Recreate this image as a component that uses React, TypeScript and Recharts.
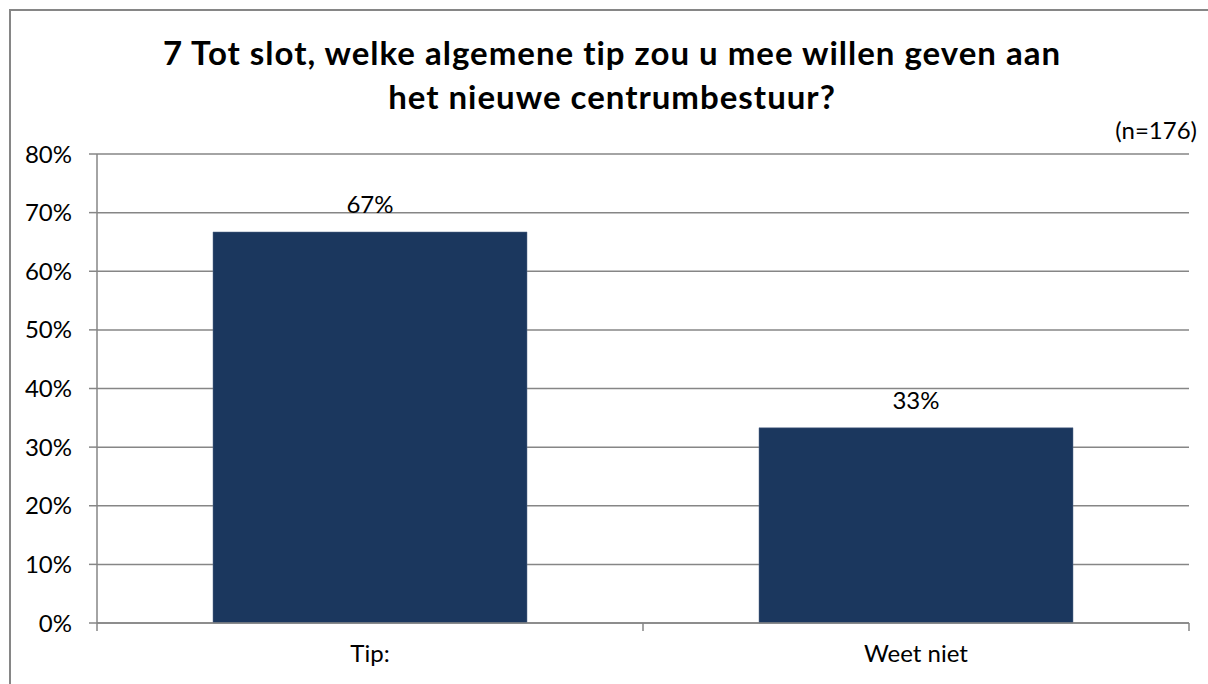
import React from "react";
import { BarChart, Bar, XAxis, YAxis, CartesianGrid, LabelList } from "recharts";

const categories = ["Tip:", "Weet niet"];
const values = [66.7, 33.3];
const valueLabels = ["67%", "33%"];
const yTicks = [0, 10, 20, 30, 40, 50, 60, 70, 80];
const titleLines = [
  "7 Tot slot, welke algemene tip zou u mee willen geven aan",
  "het nieuwe centrumbestuur?",
];
const sampleNote = "(n=176)";

const data = categories.map((c, i) => ({ name: c, value: values[i], label: valueLabels[i] }));

const AXIS = "#868686";
const FONT = "Lato, 'Liberation Sans', sans-serif";

const XTick = (props: any) => {
  const { x, y, payload, index, visibleTicksCount } = props;
  const off = payload.offset || 0;
  const last = index === (visibleTicksCount ?? categories.length) - 1;
  return (
    <g>
      <line x1={x - off} x2={x - off} y1={y - 8} y2={y} stroke={AXIS} strokeWidth={1.5} />
      {last && <line x1={x + off} x2={x + off} y1={y - 8} y2={y} stroke={AXIS} strokeWidth={1.5} />}
      <text x={x} y={y + 31} textAnchor="middle" fontSize={24} fontFamily={FONT} fill="#000">
        {payload.value}
      </text>
    </g>
  );
};

export default function App() {
  return (
    <div style={{ position: "relative", width: 1208, height: 684, overflow: "hidden", background: "#fff" }}>
      <style>{"html,body{margin:0;padding:0;overflow:hidden;}"}</style>
      <div
        style={{
          position: "absolute",
          left: 9,
          top: 9,
          right: -20,
          bottom: -20,
          borderLeft: `2px solid ${AXIS}`,
          borderTop: `2px solid ${AXIS}`,
        }}
      />
      <div
        style={{
          position: "absolute",
          left: 8,
          top: 30,
          width: 1208,
          textAlign: "center",
          fontFamily: FONT,
          fontWeight: 700,
          fontSize: 33,
          letterSpacing: 1,
          lineHeight: "44px",
          color: "#000",
        }}
      >
        {titleLines.map((t, i) => (
          <div key={i}>{t}</div>
        ))}
      </div>
      <div
        style={{
          position: "absolute",
          right: 11,
          top: 115,
          fontFamily: FONT,
          fontSize: 24,
          color: "#000",
        }}
      >
        {sampleNote}
      </div>
      <div style={{ position: "absolute", left: 0, top: 0 }}>
        <BarChart
          width={1208}
          height={684}
          data={data}
          margin={{ top: 154, right: 19, bottom: 31, left: 17 }}
          barSize={314}
        >
          <CartesianGrid vertical={false} stroke={AXIS} strokeWidth={1.5} />
          <XAxis
            dataKey="name"
            axisLine={{ stroke: AXIS, strokeWidth: 1.5 }}
            tickLine={false}
            tick={<XTick />}
            height={30}
            interval={0}
          />
          <YAxis
            domain={[0, 80]}
            ticks={yTicks}
            interval={0}
            width={80}
            tickFormatter={(v: number) => `${v}%`}
            axisLine={{ stroke: AXIS, strokeWidth: 1.5 }}
            tickLine={{ stroke: AXIS, strokeWidth: 1.5 }}
            tickSize={8}
            tickMargin={17}
            tick={{ fontSize: 24, fontFamily: FONT, fill: "#000" }}
          />
          <Bar dataKey="value" fill="#1b375e" stroke="#5a6f8c" strokeWidth={0.5} isAnimationActive={false}>
            <LabelList dataKey="label" position="top" offset={19} fontSize={24} fontFamily={FONT} fill="#000" />
          </Bar>
        </BarChart>
      </div>
    </div>
  );
}
